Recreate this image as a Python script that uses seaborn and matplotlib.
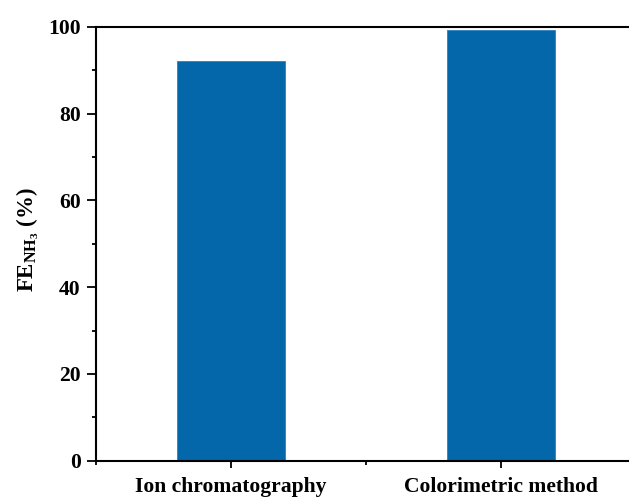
import matplotlib
matplotlib.use("Agg")
import matplotlib.pyplot as plt
from matplotlib.ticker import MultipleLocator, FixedLocator
import seaborn as sns
import pandas as pd

methods = ["Ion chromatography", "Colorimetric method"]
fe_nh3 = [92.2, 99.2]
bar_color = "#0467AA"

sns.set_style("ticks")
plt.rcParams["font.family"] = ["Liberation Serif", "DejaVu Serif"]
plt.rcParams["font.weight"] = "bold"
plt.rcParams["text.color"] = "black"
plt.rcParams["axes.labelcolor"] = "black"
plt.rcParams["xtick.color"] = "black"
plt.rcParams["ytick.color"] = "black"
plt.rcParams["mathtext.fontset"] = "custom"
plt.rcParams["mathtext.rm"] = "Liberation Serif:bold"
plt.rcParams["mathtext.bf"] = "Liberation Serif:bold"
plt.rcParams["mathtext.it"] = "Liberation Serif:bold"

df = pd.DataFrame({"method": methods, "fe": fe_nh3})

fig = plt.figure(figsize=(6.29, 4.97), dpi=100)
ax = fig.add_axes([96 / 629, 36.3 / 497, 540 / 629, 434 / 497])

sns.barplot(data=df, x="method", y="fe", color=bar_color, width=0.4,
            saturation=1, ax=ax, edgecolor="#2a80c0", linewidth=0.6)

ax.set_xlim(-0.5, 1.5)
ax.set_ylim(0, 100)
ax.yaxis.set_major_locator(MultipleLocator(20))
ax.yaxis.set_minor_locator(MultipleLocator(10))
ax.xaxis.set_minor_locator(FixedLocator([-0.5, 0.5, 1.5]))

for side in ["left", "bottom", "top"]:
    ax.spines[side].set_linewidth(1.5)
    ax.spines[side].set_color("black")
ax.spines["right"].set_visible(False)
ax.spines["top"].set_visible(True)

ax.tick_params(axis="both", which="major", direction="out", length=6.5,
               width=1.3, labelsize=15.6, pad=4.5)
ax.tick_params(axis="both", which="minor", direction="out", length=3,
               width=1.3)
ax.tick_params(axis="x", which="major", length=5, pad=7)
for lbl in ax.get_xticklabels() + ax.get_yticklabels():
    lbl.set_fontweight("bold")

ax.set_xlabel("")
ax.set_ylabel(r"FE$_{\mathrm{NH_3}}$ (%)", fontsize=16.5, fontweight="bold",
              labelpad=5)
ax.yaxis.label.set_y(0.51)

fig.savefig("out.png", dpi=100)
